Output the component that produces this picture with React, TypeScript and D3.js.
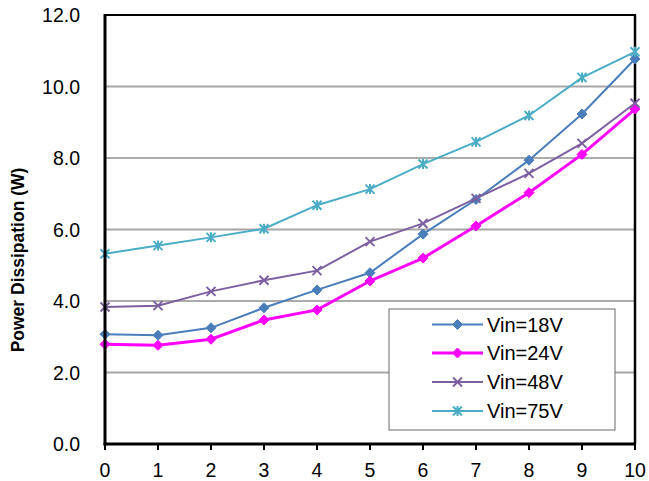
import React from "react";
import * as d3 from "d3";

const xValues = [0, 1, 2, 3, 4, 5, 6, 7, 8, 9, 10];
const vin18 = [3.07, 3.04, 3.25, 3.81, 4.31, 4.79, 5.87, 6.84, 7.94, 9.23, 10.77];
const vin24 = [2.79, 2.76, 2.93, 3.47, 3.75, 4.56, 5.2, 6.1, 7.03, 8.1, 9.37];
const vin48 = [3.83, 3.87, 4.27, 4.58, 4.85, 5.66, 6.17, 6.87, 7.57, 8.41, 9.53];
const vin75 = [5.32, 5.55, 5.78, 6.02, 6.68, 7.13, 7.83, 8.45, 9.19, 10.25, 10.97];
const yTicks = [0, 2, 4, 6, 8, 10, 12];
const seriesNames = ["Vin=18V", "Vin=24V", "Vin=48V", "Vin=75V"];
const seriesColors = ["#4A7EBB", "#FF00FF", "#7D60A0", "#4BACC6"];
const seriesMarkers = ["diamond", "diamond", "x", "star"];
const seriesWidths = [2, 3, 2, 2];
const yLabel = "Power Dissipation (W)";

const W = 649;
const H = 481;
const left = 105;
const right = 635;
const top = 15;
const bottom = 444;
const FONT = "'Liberation Sans', Arial, sans-serif";

function Marker({ type, x, y, color }: { type: string; x: number; y: number; color: string }) {
  if (type === "diamond") {
    const s = 5;
    return <path d={`M${x},${y - s}L${x + s},${y}L${x},${y + s}L${x - s},${y}Z`} fill={color} stroke={color} strokeWidth={1} />;
  }
  if (type === "x") {
    const s = 4.5;
    return (
      <path d={`M${x - s},${y - s}L${x + s},${y + s}M${x - s},${y + s}L${x + s},${y - s}`} stroke={color} strokeWidth={2} fill="none" />
    );
  }
  const s = 4.5;
  return (
    <path
      d={`M${x - s},${y - s}L${x + s},${y + s}M${x - s},${y + s}L${x + s},${y - s}M${x},${y - s - 0.5}L${x},${y + s + 0.5}`}
      stroke={color}
      strokeWidth={2}
      fill="none"
    />
  );
}

export default function App() {
  const x = d3.scaleLinear().domain([0, 10]).range([left, right]);
  const y = d3.scaleLinear().domain([0, 12]).range([bottom, top]);
  const data = [vin18, vin24, vin48, vin75];
  const line = d3
    .line<number>()
    .x((_, i) => x(xValues[i]))
    .y((d) => y(d));

  const legX = 389;
  const legY = 309;
  const legW = 226;
  const legH = 121;
  const rowY = [324.5, 353, 382, 411];

  return (
    <svg width={W} height={H} style={{ position: "absolute", left: 0, top: 0, background: "#fff" }} fontFamily={FONT}>
      <rect x={0} y={0} width={W} height={H} fill="#fff" />
      {yTicks
        .filter((t) => t > 0 && t < 12)
        .map((t) => (
          <line
            key={t}
            x1={left}
            x2={right}
            y1={y(t)}
            y2={y(t)}
            stroke={t % 4 === 0 ? "#595959" : "#a6a6a6"}
            strokeWidth={t % 4 === 0 ? 1.2 : 2}
          />
        ))}
      {/* frame top and right */}
      <line x1={left} x2={right + 1} y1={top} y2={top} stroke="#000" strokeWidth={2} />
      <line x1={right} x2={right} y1={top} y2={bottom} stroke="#000" strokeWidth={2.5} />
      {/* x ticks */}
      {xValues.map((v) => (
        <line key={v} x1={x(v)} x2={x(v)} y1={bottom} y2={bottom + 6} stroke="#000" strokeWidth={2} />
      ))}
      {/* series */}
      {data.map((d, si) => (
        <g key={si}>
          <path d={line(d) || ""} fill="none" stroke={seriesColors[si]} strokeWidth={seriesWidths[si]} />
          {d.map((v, i) => (
            <Marker key={i} type={seriesMarkers[si]} x={x(xValues[i])} y={y(v)} color={seriesColors[si]} />
          ))}
        </g>
      ))}
      {/* axes */}
      <line x1={left} x2={left} y1={top - 1} y2={bottom + 1.5} stroke="#000" strokeWidth={3} />
      <line x1={left - 1.5} x2={right + 1} y1={bottom} y2={bottom} stroke="#000" strokeWidth={3} />
      {/* y tick labels */}
      {yTicks.map((t) => (
        <text key={t} x={80} y={y(t) + 7} textAnchor="end" fontSize={19.5} fill="#000">
          {t.toFixed(1)}
        </text>
      ))}
      {/* x tick labels */}
      {xValues.map((v) => (
        <text key={v} x={x(v)} y={477} textAnchor="middle" fontSize={19.5} fill="#000">
          {v}
        </text>
      ))}
      <text
        transform={`translate(24,260) rotate(-90)`}
        textAnchor="middle"
        fontSize={17.5}
        fontWeight="bold"
        fill="#000"
      >
        {yLabel}
      </text>
      {/* legend */}
      <rect x={legX} y={legY} width={legW} height={legH} fill="#fff" stroke="#6a6a6a" strokeWidth={1} />
      {seriesNames.map((n, i) => (
        <g key={n}>
          <line x1={432} x2={483} y1={rowY[i]} y2={rowY[i]} stroke={seriesColors[i]} strokeWidth={seriesWidths[i]} />
          <Marker type={seriesMarkers[i]} x={457.5} y={rowY[i]} color={seriesColors[i]} />
          <text x={487} y={rowY[i] + 7} fontSize={20} fill="#000">
            {n}
          </text>
        </g>
      ))}
    </svg>
  );
}
